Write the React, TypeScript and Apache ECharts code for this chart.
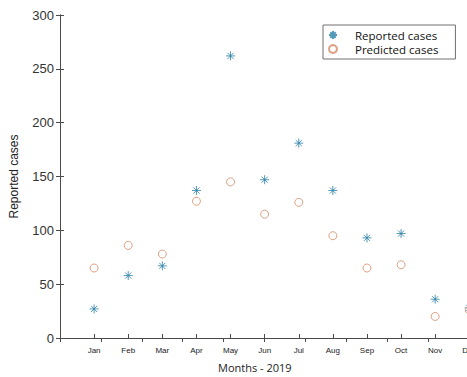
import React, { useEffect, useRef } from "react";
import * as echarts from "echarts";

const months = ["Jan", "Feb", "Mar", "Apr", "May", "Jun", "Jul", "Aug", "Sep", "Oct", "Nov", "Dec"];
const reported = [27, 58, 67, 137, 262, 147, 181, 137, 93, 97, 36, 28];
const predicted = [65, 86, 78, 127, 145, 115, 126, 95, 65, 68, 20, 26];
const yTicks = [0, 50, 100, 150, 200, 250, 300];

const BLUE = "#2a7fa6";
const ORANGE = "#d48a66";
const AXIS = "#4a4a4a";
const STAR = "path://M5 0 L5 10 M0 5 L10 5 M1.6 1.6 L8.4 8.4 M1.6 8.4 L8.4 1.6";

export default function App() {
  const ref = useRef<HTMLDivElement>(null);
  useEffect(() => {
    document.body.style.margin = "0";
    const chart = echarts.init(ref.current!, null, { renderer: "svg" });
    const axisLine = { show: true, lineStyle: { color: AXIS, width: 1 } };
    const tick = { show: true, inside: true, length: 4, lineStyle: { color: AXIS } };
    chart.setOption({
      animation: false,
      backgroundColor: "#ffffff",
      grid: { left: 60, top: 15, width: 411, height: 323, containLabel: false, outerBoundsMode: "none" },
      legend: {
        orient: "vertical",
        left: 323,
        top: 25,
        padding: [3, 17, 3, 5],
        itemWidth: 34,
        itemHeight: 8,
        itemGap: 0,
        borderColor: "#707070",
        borderWidth: 1,
        backgroundColor: "#ffffff",
        textStyle: { fontFamily: "Open Sans", fontSize: 11.5, color: "#111", lineHeight: 14 },
        data: ["Reported cases", "Predicted cases"],
      },
      xAxis: [
        {
          type: "value",
          min: 0,
          max: 12.05,
          interval: 1,
          position: "bottom",
          axisLine,
          axisTick: tick,
          splitLine: { show: false },
          axisLabel: {
            show: true,
            margin: 8,
            fontSize: 8,
            fontFamily: "Liberation Sans",
            color: "#222",
            showMinLabel: false,
            showMaxLabel: true,
            hideOverlap: false,
            formatter: (v: number) => (v >= 1 && v <= 12 && Number.isInteger(v) ? months[v - 1] : ""),
          },
        },
        {
          type: "value",
          min: 0,
          max: 10.05,
          interval: 1,
          position: "top",
          axisLine,
          axisTick: tick,
          splitLine: { show: false },
          axisLabel: { show: false },
        },
      ],
      yAxis: [
        {
          type: "value",
          min: yTicks[0],
          max: yTicks[yTicks.length - 1],
          interval: 50,
          position: "left",
          name: "Reported cases",
          nameLocation: "middle",
          nameGap: 40,
          nameTextStyle: { fontFamily: "Liberation Sans", fontSize: 12, color: "#222" },
          axisLine,
          axisTick: tick,
          splitLine: { show: false },
          axisLabel: { margin: 6, fontFamily: "Liberation Sans", fontSize: 13, color: "#333" },
        },
        {
          type: "value",
          min: yTicks[0],
          max: yTicks[yTicks.length - 1],
          interval: 50,
          position: "right",
          axisLine,
          axisTick: tick,
          splitLine: { show: false },
          axisLabel: { show: false },
        },
      ],
      graphic: [
        {
          type: "text",
          left: 218,
          top: 362,
          style: { text: "Months - 2019", fontFamily: "Open Sans", fontSize: 11, fill: "#222" },
        },
      ],
      series: [
        {
          name: "Reported cases",
          type: "scatter",
          symbol: STAR,
          symbolSize: 9,
          itemStyle: { color: "transparent", borderColor: BLUE, borderWidth: 1 },
          data: reported.map((v, i) => [i + 1, v]),
        },
        {
          name: "Predicted cases",
          type: "scatter",
          symbol: "circle",
          symbolSize: 8,
          itemStyle: { color: "transparent", borderColor: ORANGE, borderWidth: 1 },
          data: predicted.map((v, i) => [i + 1, v]),
        },
      ],
    });
    return () => chart.dispose();
  }, []);
  return <div ref={ref} style={{ position: "absolute", left: 0, top: 0, width: 467, height: 377 }} />;
}
